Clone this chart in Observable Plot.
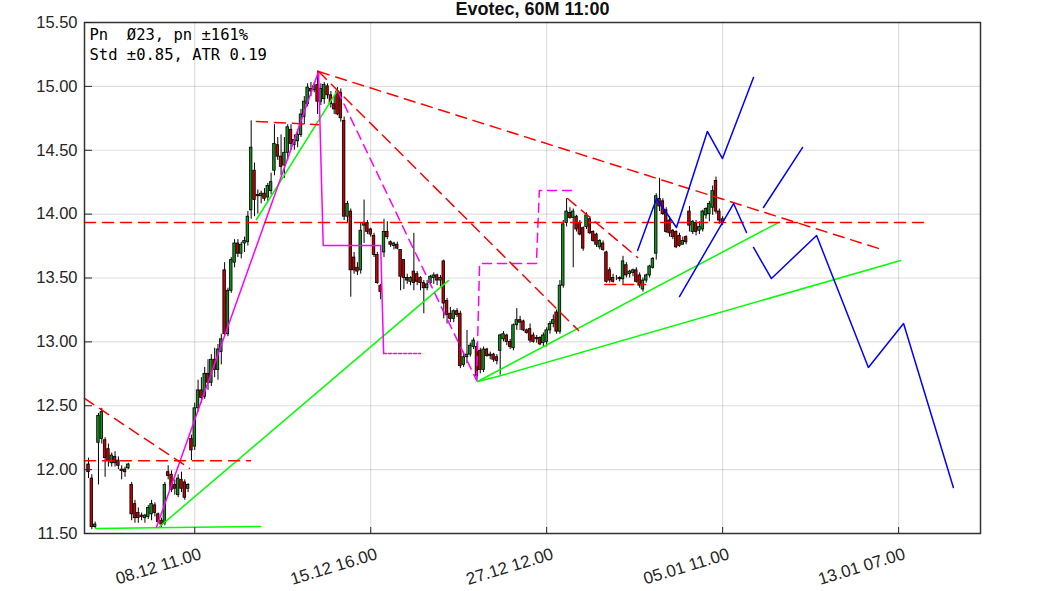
<!DOCTYPE html>
<html><head><meta charset="utf-8">
<script src="https://cdn.jsdelivr.net/npm/d3@7"></script>
<script src="https://cdn.jsdelivr.net/npm/@observablehq/plot@0.6"></script>
<style>
body{margin:0;background:#fff;}
svg text{white-space:pre;}
</style></head><body><div id="chart"></div>
<script>
const title = "Evotec, 60M 11:00";
const infoLines = ["Pn  Ø23, pn ±161%", "Std ±0.85, ATR 0.19"];
const xTickBars = [32, 85, 138, 191, 244];
const xTickLabels = ["08.12 11.00", "15.12 16.00", "27.12 12.00", "05.01 11.00", "13.01 07.00"];
const yTicks = [11.5, 12, 12.5, 13, 13.5, 14, 14.5, 15, 15.5];

const opens = [12.04,11.93,11.55,12.21,12.24,12.23,12.16,12.05,12.10,12.07,
12.00,12.00,12.01,11.88,11.73,11.66,11.64,11.62,11.63,11.65,
11.72,11.65,11.60,11.58,11.98,11.96,11.88,11.80,11.92,11.90,
11.85,12.24,12.18,12.48,12.62,12.57,12.75,12.68,12.86,12.78,
12.92,13.56,13.06,13.40,13.62,13.77,13.69,13.77,13.78,14.03,
14.34,14.15,14.14,14.16,14.13,14.18,14.34,14.54,14.45,14.38,
14.48,14.66,14.54,14.57,14.62,14.76,14.86,14.98,14.97,15.01,
14.88,14.90,15.00,14.93,14.86,14.96,14.95,14.73,13.98,14.02,
13.66,13.58,13.56,13.91,13.93,13.88,13.83,13.68,13.44,13.70,
13.86,13.78,13.75,13.76,13.72,13.64,13.50,13.47,13.55,13.53,
13.50,13.46,13.42,13.46,13.50,13.52,13.48,13.63,13.32,13.22,
13.18,13.24,13.22,12.82,12.88,12.90,12.96,12.96,12.93,12.78,
12.94,12.89,12.90,12.88,12.93,13.02,13.05,13.00,12.95,13.13,
13.17,13.16,13.09,13.10,13.05,13.02,13.03,12.99,13.00,13.09,
13.14,13.23,13.08,13.44,13.93,14.01,13.97,13.98,13.93,13.89,
13.90,13.96,13.86,13.84,13.74,13.77,13.70,13.56,13.50,13.50,
13.50,13.49,13.60,13.53,13.54,13.56,13.52,13.41,13.48,13.52,
13.58,13.69,14.12,14.10,14.03,13.95,13.87,13.86,13.83,13.76,
13.82,14.02,13.86,13.93,13.87,13.88,13.99,14.00,14.05,14.26,
14.02,13.96];
const highs = [12.09,11.96,11.59,12.44,12.48,12.25,12.20,12.13,12.14,12.10,
12.03,12.02,12.05,11.90,11.76,11.70,11.66,11.65,11.72,11.76,
11.74,11.66,11.62,11.90,12.03,11.99,11.92,11.96,11.98,11.92,
11.89,12.27,12.52,12.70,12.72,12.80,12.86,12.90,12.95,12.98,
13.06,13.62,13.42,13.66,13.80,13.80,13.78,13.82,14.02,14.73,
14.40,14.19,14.18,14.20,14.24,14.32,14.70,14.60,14.62,14.60,
14.70,14.70,14.62,14.66,14.82,14.92,15.02,15.03,15.03,15.12,
15.02,15.03,15.02,14.96,14.92,14.99,14.98,14.76,14.10,14.04,
13.70,13.62,13.93,14.11,13.95,13.89,13.85,13.70,13.45,13.96,
13.94,13.79,13.78,13.78,13.72,13.64,13.53,13.51,13.85,13.55,
13.51,13.48,13.48,13.52,13.54,13.53,13.52,13.64,13.34,13.27,
13.25,13.26,13.24,12.92,13.09,12.99,13.03,12.99,12.95,12.96,
12.95,12.92,12.91,12.90,13.06,13.08,13.06,13.02,13.14,13.26,
13.20,13.17,13.10,13.14,13.07,13.05,13.04,13.07,13.11,13.16,
13.21,13.25,13.48,13.95,14.12,14.05,14.04,13.99,13.95,13.90,
14.01,13.98,13.87,13.85,13.80,13.79,13.71,13.58,13.53,13.52,
13.51,13.67,13.62,13.56,13.57,13.58,13.54,13.50,13.53,13.60,
13.66,14.16,14.28,14.12,14.05,13.98,13.88,13.87,13.85,13.82,
13.83,14.06,13.95,13.95,13.94,14.03,14.05,14.10,14.22,14.29,
14.04,13.98];
const lows = [11.93,11.53,11.54,11.88,12.20,11.94,12.02,12.02,12.02,12.00,
11.92,11.94,12.00,11.60,11.58,11.58,11.60,11.58,11.61,11.60,
11.63,11.58,11.54,11.56,11.92,11.82,11.80,11.78,11.82,11.76,
11.82,12.07,12.15,12.45,12.52,12.55,12.62,12.65,12.72,12.70,
12.82,13.04,13.04,13.38,13.58,13.66,13.65,13.70,13.75,13.96,
13.98,14.00,14.08,14.10,14.10,14.15,14.30,14.42,14.30,14.28,
14.42,14.50,14.50,14.52,14.60,14.70,14.84,14.92,14.95,14.78,
14.85,14.86,14.90,14.83,14.78,14.77,14.72,13.95,13.93,13.35,
13.53,13.52,13.53,13.77,13.84,13.82,13.66,13.45,13.33,13.66,
13.80,13.74,13.72,13.72,13.40,13.41,13.45,13.44,13.40,13.44,
13.40,13.22,13.40,13.44,13.45,13.44,13.43,13.18,13.14,13.15,
13.15,13.19,12.79,12.80,12.83,12.88,12.94,12.70,12.75,12.76,
12.88,12.86,12.84,12.82,12.74,13.00,12.97,12.94,12.93,13.09,
13.09,13.08,13.06,12.99,12.99,12.99,12.97,12.96,12.96,13.06,
13.11,13.06,13.06,13.42,13.90,13.96,13.58,13.86,13.83,13.71,
13.88,13.84,13.78,13.74,13.72,13.71,13.46,13.46,13.46,13.48,
13.47,13.45,13.50,13.50,13.51,13.46,13.42,13.39,13.46,13.50,
13.57,13.64,14.02,13.99,13.85,13.82,13.80,13.73,13.74,13.76,
13.76,13.86,13.84,13.83,13.84,13.86,13.96,13.94,13.99,14.00,
13.92,13.91];
const closes = [11.98,11.55,11.57,12.42,12.45,12.09,12.07,12.11,12.05,12.03,
11.99,11.98,12.04,11.65,11.62,11.62,11.63,11.64,11.70,11.73,
11.66,11.59,11.57,11.88,11.95,11.84,11.85,11.93,11.85,11.78,
11.88,12.15,12.48,12.62,12.56,12.75,12.68,12.86,12.78,12.94,
13.02,13.06,13.40,13.64,13.77,13.69,13.76,13.79,13.98,14.52,
14.11,14.14,14.16,14.12,14.22,14.25,14.55,14.45,14.37,14.48,
14.68,14.55,14.58,14.62,14.78,14.88,14.99,14.96,15.00,14.88,
14.98,15.01,14.93,14.86,14.82,14.78,14.75,13.98,14.08,13.56,
13.56,13.55,13.87,13.93,13.86,13.84,13.68,13.46,13.39,13.86,
13.82,13.76,13.77,13.73,13.51,13.50,13.48,13.50,13.46,13.47,
13.46,13.42,13.45,13.51,13.52,13.48,13.50,13.30,13.21,13.18,
13.24,13.21,12.81,12.88,12.90,12.97,13.01,12.73,12.78,12.94,
12.89,12.90,12.86,12.85,13.05,13.06,13.00,12.96,13.13,13.17,
13.15,13.09,13.07,13.01,13.00,13.03,12.98,13.05,13.09,13.14,
13.17,13.08,13.44,13.92,14.02,13.97,14.02,13.88,13.84,13.73,
13.99,13.85,13.79,13.76,13.79,13.72,13.47,13.48,13.47,13.50,
13.49,13.63,13.52,13.55,13.56,13.47,13.44,13.48,13.52,13.59,
13.65,14.14,14.06,14.00,13.86,13.85,13.82,13.74,13.75,13.79,
13.78,13.91,13.94,13.86,13.90,14.02,14.04,14.08,14.18,14.02,
13.95,13.93];

// overlay polylines: [bar, price] pairs
const redDashLines = [
  [[-1.2, 13.934], [252, 13.934]],
  [[-1.2, 12.07], [48.8, 12.07]],
  [[-1.2, 12.557], [30.4, 12.01]],
  [[69.3, 15.116], [238, 13.731]],
  [[69.3, 15.116], [147.6, 13.089]],
  [[144.3, 14.122], [165.4, 13.66]],
  [[50.6, 14.725], [69.3, 14.70]],
  [[155.5, 13.45], [167.8, 13.45]]
];
const magentaLines = [
  [[20.5, 11.55], [69.3, 15.116]],
  [[69.3, 15.116], [70.7, 13.754], [88.0, 13.754], [88.9, 12.909]]
];
const magentaDashLines = [
  [[75, 14.968], [116.9, 12.698]],
  [[116.9, 12.698], [117.8, 13.614], [134.9, 13.614], [135.8, 14.185], [146.7, 14.185]]
];
const magentaDotLines = [
  [[88.9, 12.909], [100, 12.909]]
];
const greenLines = [
  [[2.1, 11.539], [51.8, 11.555]],
  [[21.1, 11.547], [108.4, 13.48]],
  [[50.6, 13.958], [75, 14.968]],
  [[117.2, 12.69], [207.8, 13.934]],
  [[117.2, 12.69], [123.2, 12.729], [244.6, 13.637]]
];
const blueLines = [
  [[165.4, 13.715], [171.1, 14.122], [177.1, 13.895], [186.4, 14.647], [190.96, 14.435], [200.3, 15.069]],
  [[178, 13.355], [194.3, 14.083], [198.2, 13.856]],
  [[203.3, 14.052], [215.1, 14.522]],
  [[200.3, 13.739], [205.7, 13.496], [219.3, 13.833], [234.9, 12.80], [245.5, 13.144], [260.5, 11.86]]
];

const candles = opens.map((o, i) => ({i, o, h: highs[i], l: lows[i], c: closes[i]}));
const pts = (lines) => lines.flatMap((line, k) => line.map(([x, y]) => ({x, y, k})));
const lineMark = (lines, stroke, dash, w = 1.5) =>
  Plot.line(pts(lines), {x: "x", y: "y", z: "k", stroke, strokeWidth: w, strokeDasharray: dash, curve: "linear"});

const UP = "#11901a", DOWN = "#c40000";

const chart = Plot.plot({
  width: 1063,
  height: 591,
  marginTop: 22,
  marginBottom: 58,
  marginLeft: 84,
  marginRight: 83,
  style: {fontFamily: "'Liberation Sans', Arial, sans-serif", fontSize: "16px", background: "#fff", color: "#262626"},
  x: {type: "linear", domain: [-1.205, 268.67], axis: null},
  y: {type: "linear", domain: [11.5, 15.5], axis: null},
  marks: [
    Plot.gridY(yTicks, {stroke: "#000", strokeOpacity: 0.13, strokeWidth: 1.2}),
    Plot.gridX(xTickBars, {stroke: "#000", strokeOpacity: 0.13, strokeWidth: 1.2}),
    Plot.ruleX(candles, {x: "i", y1: "l", y2: "h", stroke: "#000", strokeWidth: 1}),
    Plot.rect(candles, {x1: d => d.i - 0.38, x2: d => d.i + 0.38, y1: "o", y2: "c",
      fill: d => d.c >= d.o ? UP : DOWN, stroke: "#000", strokeWidth: 0.8}),
    lineMark(greenLines, "#00ff00", null),
    lineMark(magentaLines, "#ff00ff", null),
    lineMark(magentaDashLines, "#ff00ff", "9,6"),
    lineMark(magentaDotLines, "#ff00ff", "3,2"),
    lineMark(redDashLines, "#ff0000", "11,7"),
    lineMark(blueLines, "#0000ff", null),
    Plot.frame({stroke: "#333", strokeWidth: 1.5}),
    Plot.axisY(yTicks, {anchor: "left", tickSize: -8, tickPadding: 15, tickFormat: d => d.toFixed(2), fontSize: 16.5}),
    Plot.axisX(xTickBars, {anchor: "bottom", tickSize: -6, tickFormat: () => ""}),
    Plot.axisX(xTickBars, {anchor: "bottom", tickSize: 0, tickPadding: 20, tickRotate: -17, dx: 6,
      tickFormat: (d) => xTickLabels[xTickBars.indexOf(d)], fontSize: 17}),
    Plot.text([title], {frameAnchor: "top", dy: -13, lineAnchor: "middle", fontWeight: "bold", fontSize: 18, fill: "#111"}),
    Plot.text([infoLines[0]], {frameAnchor: "top-left", dx: 5, dy: 6, textAnchor: "start",
      fontFamily: "'DejaVu Sans Mono', monospace", fontSize: 15.5, fill: "#000"}),
    Plot.text([infoLines[1]], {frameAnchor: "top-left", dx: 5, dy: 26, textAnchor: "start",
      fontFamily: "'DejaVu Sans Mono', monospace", fontSize: 15.5, fill: "#000"})
  ]
});
document.getElementById("chart").appendChild(chart);
</script>
</body></html>
